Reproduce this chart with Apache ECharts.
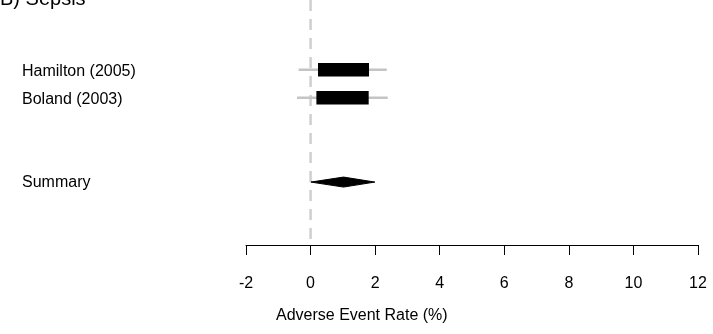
<!DOCTYPE html>
<html>
<head>
<meta charset="utf-8">
<script src="https://cdn.jsdelivr.net/npm/echarts@6/dist/echarts.min.js"></script>
<style>
html,body{margin:0;padding:0;background:#fff;}
#c{width:713px;height:334px;}
</style>
</head>
<body>
<div id="c"></div>
<script>
// Data
var studies = ['Hamilton (2005)', 'Boland (2003)'];
var studyRow = [1, 2];
var whiskerLo = [-0.37, -0.42];
var boxLo = [0.23, 0.18];
var boxHi = [1.81, 1.80];
var whiskerHi = [2.36, 2.39];
var summaryLabel = 'Summary';
var summaryRow = 5;
var summaryLo = 0.01;
var summaryMid = 1.02;
var summaryHi = 1.99;
var xTicks = [-2, 0, 2, 4, 6, 8, 10, 12];
var refValue = 0;
var title = 'B) Sepsis';
var xTitle = 'Adverse Event Rate (%)';

var FONT = 'Liberation Sans, Arial, sans-serif';
var chart = echarts.init(document.getElementById('c'), null, {renderer: 'canvas'});

var studyData = studies.map(function (s, i) {
  return [studyRow[i], whiskerLo[i], boxLo[i], boxHi[i], whiskerHi[i], s];
});

var option = {
  animation: false,
  backgroundColor: '#ffffff',
  grid: {left: 246, right: 15, top: 0, bottom: 89, containLabel: false},
  xAxis: {
    type: 'value', min: xTicks[0], max: xTicks[xTicks.length - 1], interval: 2,
    axisLine: {show: true, onZero: false, lineStyle: {color: '#000', width: 1}},
    axisTick: {show: true, length: 10, lineStyle: {color: '#000', width: 1}},
    axisLabel: {color: '#000', fontSize: 16, fontFamily: FONT, margin: 31},
    splitLine: {show: false}
  },
  yAxis: {
    type: 'value', min: -1.48, max: 7.24, inverse: true, show: false
  },
  graphic: [
    {type: 'text', left: 0, top: -11, z: 10,
     style: {text: title, fontSize: 20, fontFamily: FONT, fill: '#000'}},
    {type: 'text', left: 276, top: 308, z: 10,
     style: {text: xTitle, fontSize: 16, fontFamily: FONT, fill: '#000'}}
  ],
  series: [
    {
      type: 'line', z: 1, silent: true, symbol: 'none',
      data: [[refValue, -1.48], [refValue, 7.24]],
      lineStyle: {color: '#cfcfcf', width: 2.5, type: [11, 8]}
    },
    {
      type: 'custom', z: 3, silent: true,
      encode: {x: [1, 2, 3, 4], y: 0},
      data: studyData,
      renderItem: function (params, api) {
        var row = api.value(0);
        var pLo = api.coord([api.value(1), row]);
        var pBl = api.coord([api.value(2), row]);
        var pBh = api.coord([api.value(3), row]);
        var pHi = api.coord([api.value(4), row]);
        var y = pLo[1];
        var h = 13.5;
        return {
          type: 'group',
          children: [
            {type: 'line', shape: {x1: pLo[0], y1: y, x2: pHi[0], y2: y},
             style: {stroke: '#c4c4c4', lineWidth: 2.5}},
            {type: 'rect', shape: {x: pBl[0], y: y - h / 2, width: pBh[0] - pBl[0], height: h},
             style: {fill: '#000'}},
            {type: 'text', x: 22, y: y + 1.5,
             style: {text: api.value(5), fontSize: 16, fontFamily: FONT, fill: '#000',
                     verticalAlign: 'middle', align: 'left'}}
          ]
        };
      }
    },
    {
      type: 'custom', z: 3, silent: true,
      encode: {x: [1, 2, 3], y: 0},
      data: [[summaryRow, summaryLo, summaryMid, summaryHi, summaryLabel]],
      renderItem: function (params, api) {
        var row = api.value(0);
        var a = api.coord([api.value(1), row]);
        var m = api.coord([api.value(2), row]);
        var b = api.coord([api.value(3), row]);
        var y = a[1];
        var hh = 5;
        return {
          type: 'group',
          children: [
            {type: 'polygon', shape: {points: [[a[0], y], [m[0], y - hh], [b[0], y], [m[0], y + hh]]},
             style: {fill: '#000', stroke: '#000', lineWidth: 1}},
            {type: 'text', x: 22, y: y + 1,
             style: {text: api.value(4), fontSize: 16, fontFamily: FONT, fill: '#000',
                     verticalAlign: 'middle', align: 'left'}}
          ]
        };
      }
    }
  ]
};
chart.setOption(option);
</script>
</body>
</html>
